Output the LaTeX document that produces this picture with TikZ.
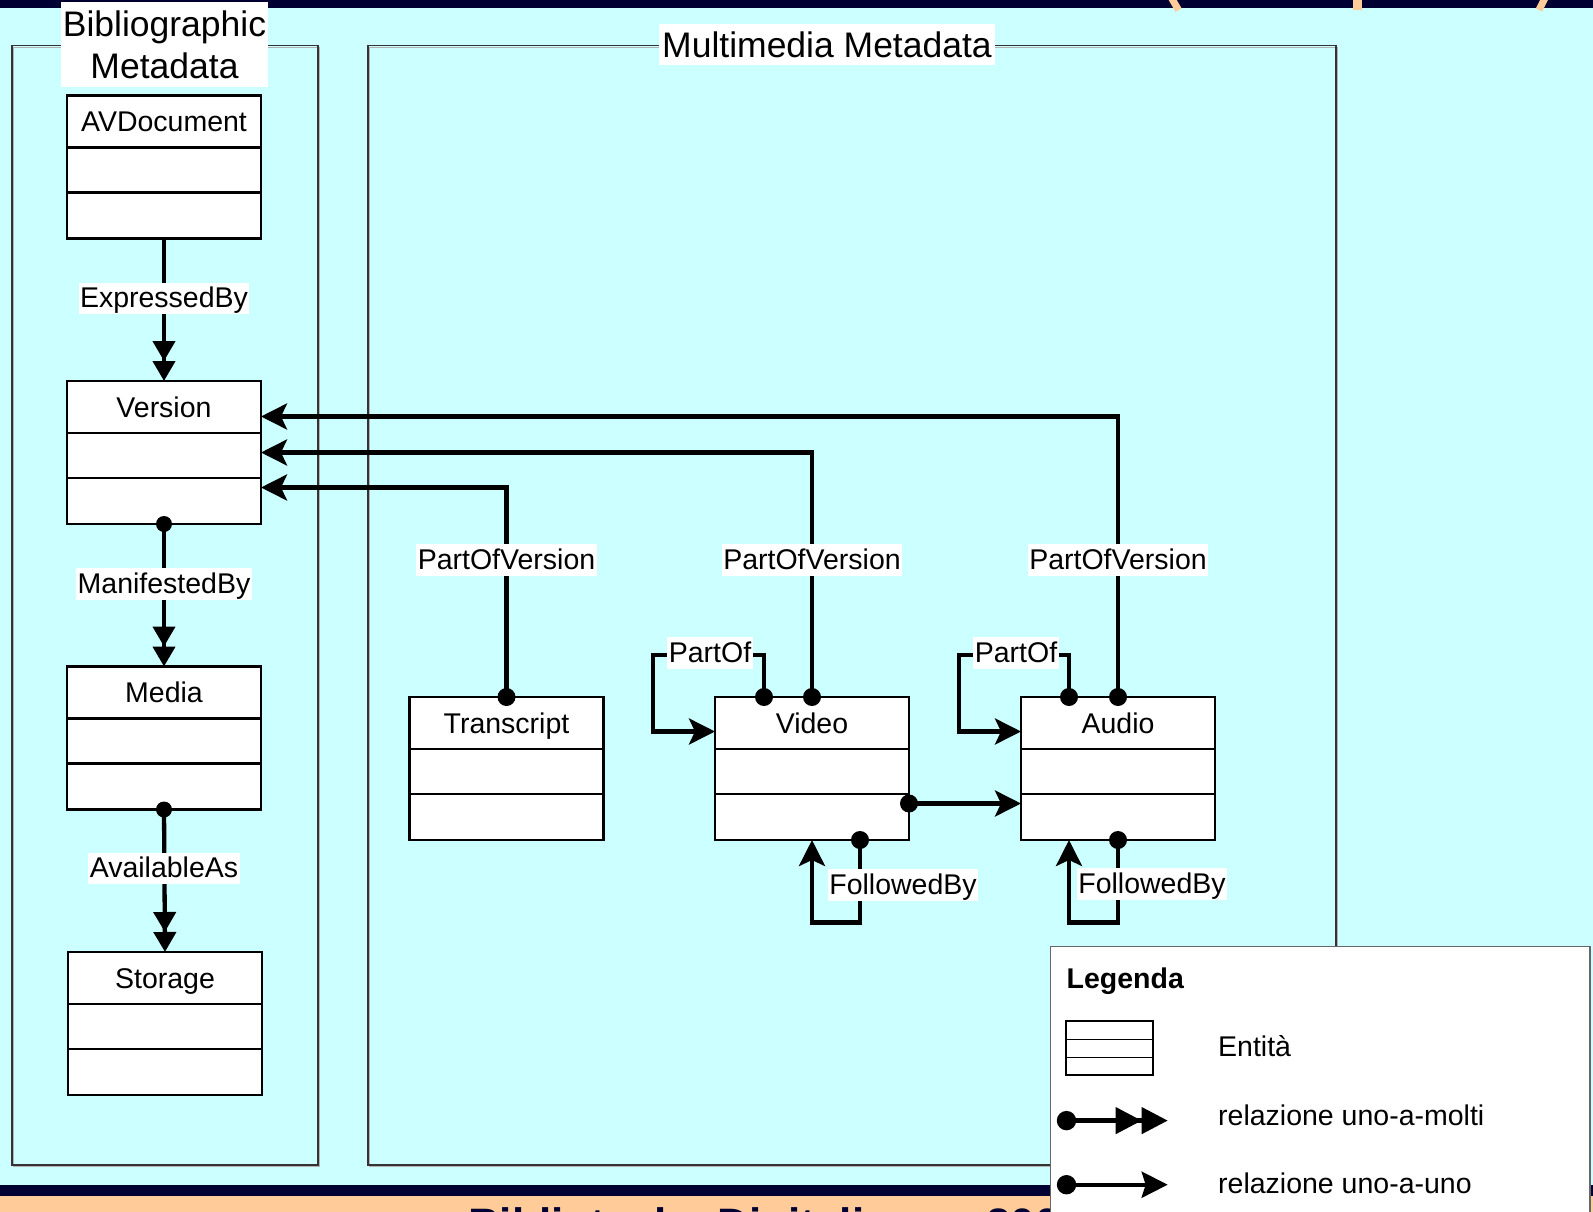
\documentclass[tikz,border=0pt]{standalone}
\usepackage{fontspec}
\setmainfont{Liberation Sans}
\usetikzlibrary{arrows.meta}

\definecolor{bgcyan}{RGB}{204,255,255}
\definecolor{navy}{RGB}{0,0,51}
\definecolor{peach}{RGB}{255,204,153}

\tikzset{
  entbox/.style={draw=black, fill=white, line width=2.3pt, minimum width=194pt,
    minimum height=143pt, inner sep=0pt, outer sep=0pt},
  entname/.style={font=\fontsize{28.5}{32}\selectfont, inner sep=0pt,
    text height=21pt, text depth=1pt},
  lab/.style={fill=white, font=\fontsize{28.5}{32}\selectfont, inner xsep=1.5pt,
    inner ysep=2pt, text height=23pt, text depth=4.5pt},
  conn/.style={line width=4.3pt, line join=miter},
  many/.style={conn, -{Triangle[length=20pt,width=22pt]Triangle[length=20pt,width=22pt]}},
  one/.style={conn, -{Stealth[length=26pt,width=26pt,inset=6pt]}},
  dot/.style={fill=black},
  frame/.style={draw=black!80, line width=1.1pt},
  frameshadow/.style={draw=black!30, line width=1.3pt},
  title/.style={fill=white, inner sep=0pt, font=\fontsize{35.5}{42}\selectfont},
  legtext/.style={anchor=base west, inner sep=0pt, font=\fontsize{28.5}{32}\selectfont},
}

% entity box: name, centre x, top y, printed name
\newcommand{\entity}[4]{%
  \node[entbox, anchor=north] (#1) at (#2,#3) {};
  \draw[line width=2.3pt] ([yshift=-52pt]#1.north west) -- ([yshift=-52pt]#1.north east);
  \draw[line width=2.3pt] ([yshift=-97pt]#1.north west) -- ([yshift=-97pt]#1.north east);
  \node[entname] (#1-name) at ([yshift=-26pt]#1.north) {#4};
}

\begin{document}
\begin{tikzpicture}[x=1pt, y=-1pt]
\useasboundingbox (0,0) rectangle (1593,1212);
\clip (0,0) rectangle (1593,1212);

% slide background
\fill[bgcyan] (0,0) rectangle (1593,1212);
\fill[navy] (0,0) rectangle (1593,8);
\fill[navy] (0,1185) rectangle (1593,1196);
\fill[peach] (0,1196) rectangle (1593,1212);
\draw[peach, line width=7pt] (1171.5,-2) -- (1178.5,10);
\draw[peach, line width=9pt] (1357.5,-2) -- (1357.5,10);
\draw[peach, line width=7pt] (1545,-2) -- (1539,10);
\node[anchor=base west, inner sep=0pt, text=navy, font=\bfseries\fontsize{44}{50}\selectfont]
  (foot) at (468,1239.5) {Biblioteche Digitali};
\node[anchor=base west, inner sep=0pt, text=navy, font=\bfseries\fontsize{44}{50}\selectfont]
  (footyear) at (986,1239.5) {200};

% group frames
\draw[frameshadow] (13.5,47.2) rectangle (319.5,1166.5);
\draw[frame] (12,45.7) rectangle (318,1165);
\draw[frameshadow] (369.5,47.2) rectangle (1337.5,1166.5);
\draw[frame] (368,45.7) rectangle (1336,1165);
\node[title, minimum width=207pt, minimum height=85pt, align=center]
  (bibtitle) at (164.5,44.5) {Bibliographic\\Metadata};
\node[title, minimum width=336pt, minimum height=41pt]
  (mmtitle) at (827,44.5) {Multimedia Metadata};

% entities
\entity{avdoc}{164}{95.5}{AVDocument}
\entity{version}{164}{381}{Version}
\entity{media}{164}{666.5}{Media}
\entity{storage}{165}{952}{Storage}
\entity{transcript}{506.5}{697}{Transcript}
\entity{video}{812}{697}{Video}
\entity{audio}{1118}{697}{Audio}

% bibliographic chain
\draw[many] (avdoc.south) -- (version.north);
\draw[many] (version.south) -- (media.north);
\draw[many] (media.south) -- (storage.north);
\fill[dot] (version.south) circle[radius=8pt];
\fill[dot] (media.south) circle[radius=8pt];
\node[lab] (lexp) at (164,298.7) {ExpressedBy};
\node[lab] (lman) at (164,584) {ManifestedBy};
\node[lab] (lavl) at (164,868.7) {AvailableAs};

% parts of a version
\draw[one] (audio.north) |- ([yshift=36pt]version.east);
\draw[one] (video.north) |- (version.east);
\draw[one] (transcript.north) |- ([yshift=-35pt]version.east);
\node[lab] (lpv1) at (506.5,560) {PartOfVersion};
\node[lab] (lpv2) at (812,560) {PartOfVersion};
\node[lab] (lpv3) at (1118,560) {PartOfVersion};

% PartOf loops
\draw[one] ([xshift=-48pt]video.north) |- ++(-111,-42) |- ([yshift=-34.5pt]video.north west);
\draw[one] ([xshift=-49pt]audio.north) |- ++(-110,-42) |- ([yshift=-34.5pt]audio.north west);
\node[lab] (lpo1) at (710,653) {PartOf};
\node[lab] (lpo2) at (1016,653) {PartOf};

% video to audio
\draw[one] ([yshift=-35pt]video.east) -- ([yshift=-35pt]audio.west);

% FollowedBy loops
\draw[one] ([xshift=48pt]video.south) -- ++(0,82.5) -| (video.south);
\draw[one] (audio.south) -- ++(0,82.5) -| ([xshift=-49pt]audio.south);
\node[lab] (lfb1) at (903,885) {FollowedBy};
\node[lab] (lfb2) at (1152,884) {FollowedBy};

% connector dots
\fill[dot] (transcript.north) circle[radius=9pt];
\fill[dot] (video.north) circle[radius=9pt];
\fill[dot] (audio.north) circle[radius=9pt];
\fill[dot] ([xshift=-48pt]video.north) circle[radius=9pt];
\fill[dot] ([xshift=-49pt]audio.north) circle[radius=9pt];
\fill[dot] ([yshift=-35pt]video.east) circle[radius=9pt];
\fill[dot] ([xshift=48pt]video.south) circle[radius=9pt];
\fill[dot] (audio.south) circle[radius=9pt];

% legend
\draw[fill=white, draw=black!60, line width=1.2pt] (1050.5,946.5) rectangle (1590,1240);
\node[anchor=base west, inner sep=0pt, font=\bfseries\fontsize{28.5}{32}\selectfont]
  (legtitle) at (1066.5,988) {Legenda};
\draw[line width=1.2pt] (1066,1021) rectangle (1153,1075);
\draw[line width=1.2pt] (1066,1039.5) -- (1153,1039.5);
\draw[line width=1.2pt] (1066,1057.7) -- (1153,1057.7);
\node[legtext] (legent) at (1218,1056.4) {Entità};

\coordinate (lm-a) at (1066.5,1120.6);
\coordinate (lm-b) at (1167.7,1120.6);
\draw[conn, -{Triangle[length=26pt,width=26pt]Triangle[length=26pt,width=26pt]}] (lm-a) -- (lm-b);
\fill[dot] (lm-a) circle[radius=9.7pt];
\node[legtext] (legmany) at (1218,1125.8) {relazione uno-a-molti};

\coordinate (lo-a) at (1066.5,1184.7);
\coordinate (lo-b) at (1167.7,1184.7);
\draw[conn, -{Stealth[length=26pt,width=26pt,inset=4pt]}] (lo-a) -- (lo-b);
\fill[dot] (lo-a) circle[radius=9.7pt];
\node[legtext] (legone) at (1218,1193.8) {relazione uno-a-uno};
\end{tikzpicture}
\end{document}
